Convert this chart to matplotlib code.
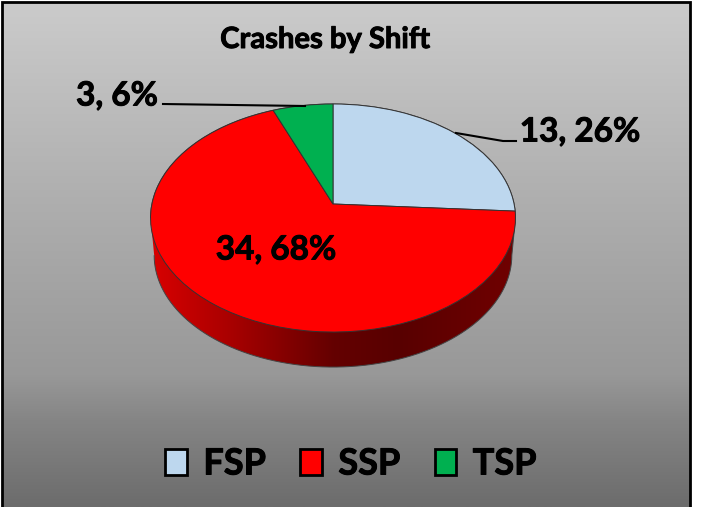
import numpy as np
import matplotlib
matplotlib.use('Agg')
import matplotlib.pyplot as plt
import matplotlib.patheffects as pe
from matplotlib.colors import LinearSegmentedColormap
from matplotlib.patches import Patch, PathPatch
from matplotlib.path import Path
from matplotlib.transforms import Transform

shifts = ['FSP', 'SSP', 'TSP']
crashes = [13, 34, 3]
percents = [26, 68, 6]
slice_colors = ['#bdd7ee', '#ff0000', '#00b050']
title = 'Crashes by Shift'

plt.rcParams['font.family'] = ['Lato', 'DejaVu Sans']
plt.rcParams['font.weight'] = 'bold'

W, H = 703, 507
# pie geometry in pixels
CX, CY = 333, 204
A, C, B = 181.1, 112.3, 0.1228
DEPTH, SHRINK = 37.6, 0.98

# lato is a bit thin next to the original font
heavy = [pe.withStroke(linewidth=0.7, foreground='black')]


# tilts the flat pie so it looks like the 3d one
class Tilt(Transform):
    input_dims = 2
    output_dims = 2

    def __init__(self, drop=0.0, scale=1.0):
        super().__init__()
        self.drop = drop
        self.scale = scale

    def transform_non_affine(self, xy):
        xy = np.asarray(xy, dtype=float)
        w = 1 + B * xy[:, 1]
        return np.column_stack([CX + self.scale * A * xy[:, 0] / w,
                                CY + self.drop - self.scale * C * xy[:, 1] / w])


fig = plt.figure(figsize=(W / 100, H / 100), dpi=100)
ax = fig.add_axes([0, 0, 1, 1])

wedges, _ = ax.pie(crashes, colors=slice_colors, startangle=90, counterclock=False,
                   wedgeprops=dict(edgecolor='#333333', linewidth=0.7))
tilt = Tilt() + ax.transData
for w in wedges:
    w.set_transform(tilt)
    w.set_zorder(5)

ax.set_aspect('auto')
ax.set_xlim(0, W)
ax.set_ylim(H, 0)
ax.axis('off')

# background
bg_cmap = LinearSegmentedColormap.from_list('bg', [
    (0.0, '#cbcbcb'), (0.4, '#aeaeae'), (0.74, '#989898'), (0.83, '#858585'), (1.0, '#6c6c6c')])
ax.imshow(np.linspace(0, 1, 256).reshape(-1, 1), cmap=bg_cmap, aspect='auto',
          extent=(2, 690, H, 2), zorder=0)

# side wall of the pie
t = np.linspace(0, 2 * np.pi, 361)
circle = np.column_stack([np.cos(t), np.sin(t)])
top = Tilt().transform(circle)
bottom = Tilt(DEPTH, SHRINK).transform(circle)
lower = bottom[bottom[:, 1] >= bottom[np.argmax(bottom[:, 0]), 1]]
lower = lower[np.argsort(lower[:, 0])]
upper = top[top[:, 1] <= top[np.argmax(top[:, 0]), 1]]
upper = upper[np.argsort(-upper[:, 0])]
wall = PathPatch(Path(np.vstack([lower, upper])), facecolor='none',
                 edgecolor='#444444', linewidth=0.7, zorder=3)
ax.add_patch(wall)
wall_cmap = LinearSegmentedColormap.from_list('wall', [
    (0.0, '#d80000'), (0.2, '#ac0000'), (0.5, '#640000'), (0.68, '#580000'), (1.0, '#700000')])
im = ax.imshow(np.linspace(0, 1, 256).reshape(1, -1), cmap=wall_cmap, aspect='auto',
               extent=(152, 515, 375, 100), zorder=2)
im.set_clip_path(wall)
ax.set_xlim(0, W)
ax.set_ylim(H, 0)

# frame, bottom runs off the picture
ax.plot([2, 2, 690, 690], [H, 2, 2, H], color='black', linewidth=2, zorder=6,
        solid_joinstyle='miter')

ax.text(325, 40, title, fontsize=21, ha='center', va='center', zorder=7, path_effects=heavy)

# data labels and leader lines
labels = [f'{c}, {p}%' for c, p in zip(crashes, percents)]
ax.text(580, 132, labels[0], fontsize=24, ha='center', va='center', zorder=7, path_effects=heavy)
ax.text(276, 250, labels[1], fontsize=24, ha='center', va='center', zorder=7, path_effects=heavy)
ax.text(117, 96, labels[2], fontsize=24, ha='center', va='center', zorder=7, path_effects=heavy)
ax.plot([456, 503, 516], [133, 141, 141], color='black', linewidth=1.5, zorder=6)
ax.plot([163, 305], [104, 106], color='black', linewidth=1.5, zorder=6)

# legend
handles = [Patch(facecolor=c, edgecolor='black', linewidth=2) for c in slice_colors]
leg = ax.legend(handles, shifts, ncol=3, frameon=False, fontsize=26, handlelength=0.6,
                handleheight=0.7, handletextpad=0.45, columnspacing=0.95, borderpad=0,
                borderaxespad=0, loc='center', bbox_to_anchor=(351 / W, 1 - 464 / H))
for txt in leg.get_texts():
    txt.set_path_effects(heavy)

fig.savefig('out.png', dpi=100)
